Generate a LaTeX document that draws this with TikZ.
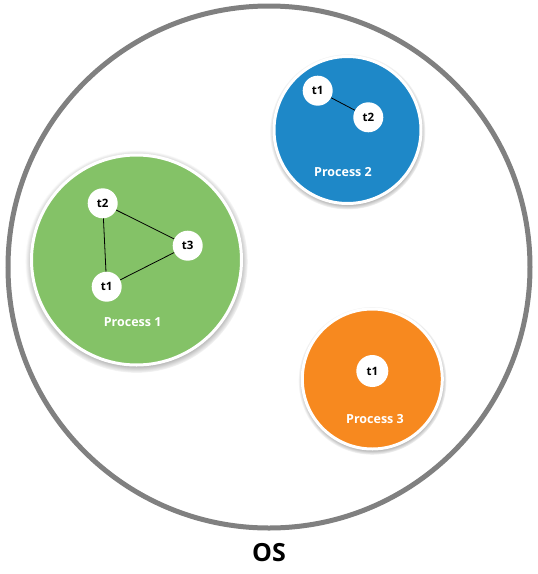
\documentclass[tikz,border=0pt]{standalone}
\usepackage{fontspec}
\setmainfont{Open Sans}
\usetikzlibrary{positioning,shadows}
\definecolor{osgray}{HTML}{808080}
\definecolor{pblue}{HTML}{1E88C8}
\definecolor{pgreen}{HTML}{84C267}
\definecolor{porange}{HTML}{F7891F}
\tikzset{
  proc/.style={circle, draw=white, line width=3pt, inner sep=0pt,
    circular drop shadow={shadow xshift=0pt, shadow yshift=-1.5pt, shadow scale=1.06, opacity=.9, fill=black!70}},
  thr/.style={circle, fill=white, minimum size=30pt, inner sep=0pt, font=\bfseries\fontsize{11.5}{11.5}\selectfont},
  plabel/.style={text=white, font=\bfseries\fontsize{12.5}{12.5}\selectfont},
  link/.style={draw=black, line width=0.8pt}
}
\begin{document}
\begin{tikzpicture}[x=1pt,y=-1pt]
\useasboundingbox (0,0) rectangle (538,574);
\node (os) [circle, draw=osgray, line width=5pt, minimum size=522pt, inner sep=0pt] at (269,267) {};
\node (oslabel) [font=\bfseries\fontsize{25}{25}\selectfont] at (269,553) {OS};

\node (p2) [proc, fill=pblue, minimum size=147pt] at (347.5,130) {};
\node [plabel] at (343,172) {Process 2};
\node (p2t1) [thr] at (317.7,90.7) {t1};
\node (p2t2) [thr] at (368.3,117.3) {t2};
\draw [link] (p2t1) -- (p2t2);

\node (p1) [proc, fill=pgreen, minimum size=210pt] at (136.5,260) {};
\node [plabel] at (132.7,321.7) {Process 1};
\node (p1t2) [thr] at (102.7,203.3) {t2};
\node (p1t3) [thr] at (187.7,245.7) {t3};
\node (p1t1) [thr] at (106.7,286.7) {t1};
\draw [link] (p1t2) -- (p1t3);
\draw [link] (p1t3) -- (p1t1);
\draw [link] (p1t1) -- (p1t2);

\node (p3) [proc, fill=porange, minimum size=140pt] at (372.3,379) {};
\node [plabel] at (375,419) {Process 3};
\node (p3t1) [thr, minimum size=32pt] at (372.3,371) {t1};
\end{tikzpicture}
\end{document}
